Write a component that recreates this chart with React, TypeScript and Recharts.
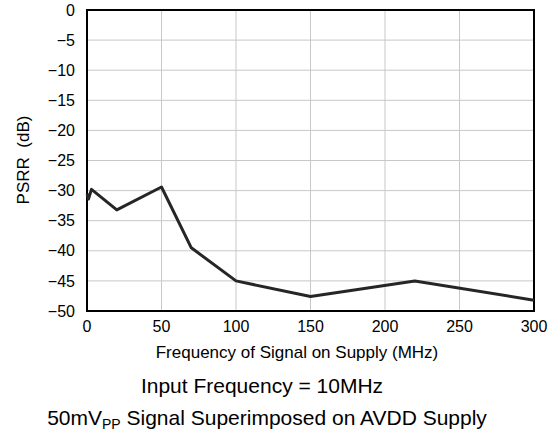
import { LineChart, Line, XAxis, YAxis, CartesianGrid, ReferenceArea } from "recharts";

// values
const freqMHz = [0.1, 1, 3, 20, 50, 70, 100, 150, 220, 300];
const psrrDb = [-30.5, -31.4, -29.8, -33.2, -29.4, -39.5, -45.0, -47.6, -45.0, -48.2];
const xTicks = [0, 50, 100, 150, 200, 250, 300];
const yTicks = [0, -5, -10, -15, -20, -25, -30, -35, -40, -45, -50];

const data = freqMHz.map((f, i) => ({ f, psrr: psrrDb[i] }));

const font = '"Liberation Sans", Arial, sans-serif';
const minus = (v: number) => (v < 0 ? "\u2212" + Math.abs(v) : String(v));

export default function App() {
  return (
    <div style={{ position: "absolute", left: 0, top: 0, width: 554, height: 442, fontFamily: font, background: "#fff" }}>
      <LineChart width={554} height={442} data={data} margin={{ top: 10, right: 20, bottom: 101, left: 0 }}>
        <CartesianGrid stroke="#c8c8c8" strokeWidth={1} />
        <XAxis
          dataKey="f"
          type="number"
          domain={[0, 300]}
          ticks={xTicks}
          height={30}
          tickLine={false}
          axisLine={false}
          tickMargin={4}
          tick={{ fill: "#000", fontSize: 16, fontFamily: font }}
        />
        <YAxis
          type="number"
          domain={[-50, 0]}
          ticks={yTicks}
          width={87}
          tickLine={false}
          axisLine={false}
          tickMargin={6}
          tickFormatter={minus}
          tick={{ fill: "#000", fontSize: 16, fontFamily: font }}
        />
        <ReferenceArea x1={0} x2={300} y1={-50} y2={0} fill="none" stroke="#000" strokeWidth={2} ifOverflow="visible" />
        <Line
          dataKey="psrr"
          type="linear"
          stroke="#262626"
          strokeWidth={3}
          strokeLinejoin="round"
          dot={false}
          isAnimationActive={false}
        />
      </LineChart>
      <div style={{ position: "absolute", left: 23, top: 160, transform: "translate(-50%, -50%) rotate(-90deg)", fontSize: 17, lineHeight: 1, whiteSpace: "pre" }}>
        PSRR  (dB)
      </div>
      <div style={{ position: "absolute", left: 297, top: 344, transform: "translateX(-50%)", fontSize: 17, lineHeight: 1, whiteSpace: "nowrap" }}>
        Frequency of Signal on Supply (MHz)
      </div>
      <div style={{ position: "absolute", left: 262, top: 375, transform: "translateX(-50%)", fontSize: 21, lineHeight: 1, whiteSpace: "nowrap" }}>
        Input Frequency = 10MHz
      </div>
      <div style={{ position: "absolute", left: 267, top: 407, transform: "translateX(-50%)", fontSize: 21, lineHeight: 1, whiteSpace: "nowrap" }}>
        50mV<span style={{ fontSize: 14, position: "relative", top: 4 }}>PP</span> Signal Superimposed on AVDD Supply
      </div>
    </div>
  );
}
